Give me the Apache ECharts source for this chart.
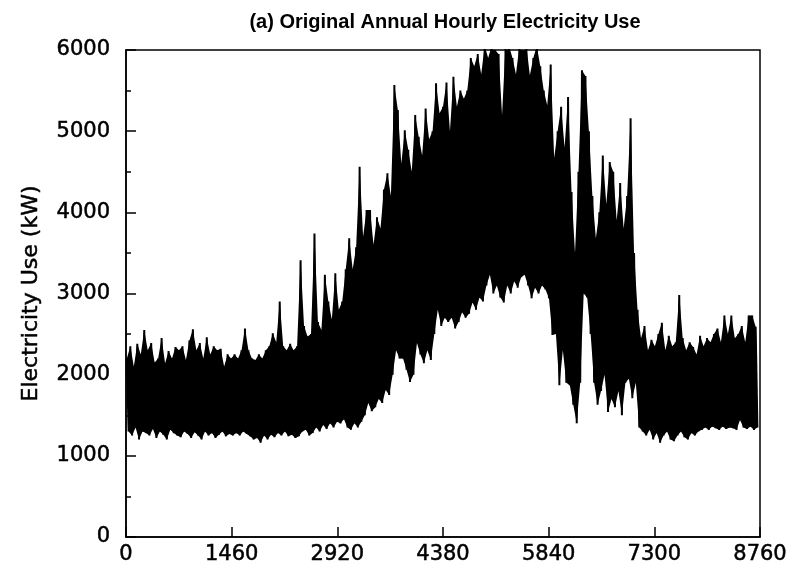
<!DOCTYPE html>
<html>
<head>
<meta charset="utf-8">
<script src="https://cdn.jsdelivr.net/npm/echarts@6/dist/echarts.min.js"></script>
<style>html,body{margin:0;padding:0;background:#fff}#c{width:795px;height:572px}</style>
</head>
<body>
<div id="c"></div>
<script>
// Values: for every 2-day block (48 h), the block's high (around hour 48*i+12)
// and its low (around hour 48*i+36), in kW.
const blockHours = 48;
const highs = [
  2200,2350,2100,2380,2250,2550,2300,2390,2150,2200,
  2450,2140,2290,2200,2340,2300,2350,2180,2420,2560,
  2300,2390,2200,2460,2250,2350,2300,2320,2100,2250,
  2200,
  2250,2200,2300,2570,2300,2200,2180,2250,2200,2300,
  2350,2510,2400,2900,2350,2300,2380,2300,2350,3410,
  2600,2470,2500,3740,2650,2550,3230,2900,2680,3250,
  2800,
  2900,3300,3680,3300,3570,4560,3700,4030,4030,3600,
  3940,3800,4280,4480,4200,5570,5260,4600,5010,4770,
  4500,5200,4930,4700,5280,4900,5000,5590,5220,5300,
  5600,
  5000,5670,5300,5500,5400,5500,5900,5800,5950,5700,
  6050,5900,6050,6000,5950,5200,6050,6050,5900,5700,
  6050,6000,6050,5690,5900,6050,5800,5500,5320,5820,
  4670,5000,5300,4800,5420,4250,3500,4500,5750,5680,
  5000,4200,3680,4000,4700,4100,4620,4500,3900,4360,
  3800,4200,5160,3500,2800,
  2450,2600,2300,2430,2350,2500,2640,2300,2480,2350,
  2400,2980,2450,2300,2400,2340,2250,2480,2350,2450,
  2400,2500,2570,2400,2730,2500,2730,2450,2500,2600,
  2400,2730,2730,2590
];
const lows = [
  1300,1250,1350,1200,1300,1280,1250,1330,1220,1300,
  1260,1200,1320,1280,1250,1230,1300,1270,1220,1290,
  1250,1200,1300,1250,1280,1220,1260,1300,1240,1270,
  1250,
  1280,1250,1300,1270,1240,1200,1220,1160,1250,1200,
  1260,1230,1280,1250,1300,1240,1260,1220,1240,1300,
  1320,1250,1280,1350,1300,1380,1330,1400,1350,1420,
  1400,
  1450,1350,1320,1400,1350,1420,1500,1650,1550,1600,
  1700,1650,1810,1750,2000,2300,2200,2200,2060,1910,
  2000,2390,2250,2140,2300,2180,2500,2800,2600,2700,
  2650,
  2700,2570,2650,2770,2700,2750,2890,2800,2950,2900,
  3100,3230,3000,3100,2950,2890,3100,3000,3150,3070,
  3200,3230,3100,2940,3070,3000,3100,3050,2940,2490,
  2500,1870,2300,1900,1870,1630,1400,1900,3000,2950,
  2500,1900,1630,1800,2000,1540,1700,1600,1800,1500,
  1900,1950,1710,1900,1350,
  1300,1250,1320,1200,1280,1160,1250,1300,1200,1180,
  1250,1300,1230,1200,1280,1250,1300,1320,1350,1320,
  1360,1340,1320,1360,1330,1350,1340,1320,1440,1350,
  1330,1360,1320,1350
];
const xTicks = [0, 1460, 2920, 4380, 5840, 7300, 8760];
const yTicks = [0, 1000, 2000, 3000, 4000, 5000, 6000];

const highPts = highs.map((v, i) => [i * blockHours + 12, v]);
const lowPts = lows.map((v, i) => [i * blockHours + 36, v]);
const points = [];
for (let i = 0; i < highs.length; i++) { points.push(highPts[i]); points.push(lowPts[i]); }

const font = 'DejaVu Sans';
const axisText = {color: '#000', fontFamily: font, fontSize: 21, textBorderColor: '#000', textBorderWidth: 0.5};
const chart = echarts.init(document.getElementById('c'), null, {renderer: 'canvas'});
chart.setOption({
  animation: false,
  backgroundColor: '#fff',
  title: {
    text: '(a) Original Annual Hourly Electricity Use',
    left: 440, top: 7, textAlign: 'center',
    textStyle: {fontFamily: 'Liberation Sans', fontSize: 20, fontWeight: 'bold', color: '#000'}
  },
  grid: {left: 126, right: 35, top: 50, bottom: 35, show: true, borderColor: '#000', borderWidth: 1.5, backgroundColor: 'transparent'},
  xAxis: {
    type: 'value', min: xTicks[0], max: xTicks[xTicks.length - 1], interval: 1460,
    axisLine: {show: true, lineStyle: {color: '#000', width: 1.5}},
    axisTick: {show: true, inside: true, length: 10, lineStyle: {color: '#000', width: 1.5}},
    axisLabel: Object.assign({margin: 7, formatter: v => String(v)}, axisText),
    splitLine: {show: false}
  },
  yAxis: {
    type: 'value', min: yTicks[0], max: yTicks[yTicks.length - 1], interval: 1000,
    name: 'Electricity Use (kW)', nameLocation: 'middle', nameGap: 84,
    nameTextStyle: Object.assign({}, axisText, {fontSize: 22}),
    axisLine: {show: true, lineStyle: {color: '#000', width: 1.5}},
    axisTick: {show: true, inside: true, length: 10, lineStyle: {color: '#000', width: 1.5}},
    minorTick: {show: true, splitNumber: 2, length: 5, lineStyle: {color: '#000', width: 1.5}},
    axisLabel: Object.assign({margin: 16, formatter: v => String(v)}, axisText),
    splitLine: {show: false}, minorSplitLine: {show: false}
  },
  series: [
    {
      // solid band between the 2-day highs and lows
      type: 'custom', silent: true, clip: true,
      data: [0],
      renderItem: function (params, api) {
        const pts = highPts.map(p => api.coord(p)).concat(lowPts.slice().reverse().map(p => api.coord(p)));
        return {
          type: 'polygon',
          shape: {points: pts},
          style: {fill: '#000', stroke: null}
        };
      }
    },
    {
      type: 'line', data: points, showSymbol: false, symbol: 'none', clip: true,
      sampling: null,
      lineStyle: {color: '#000', width: 2, join: 'miter', miterLimit: 4}
    }
  ]
});
</script>
</body>
</html>
